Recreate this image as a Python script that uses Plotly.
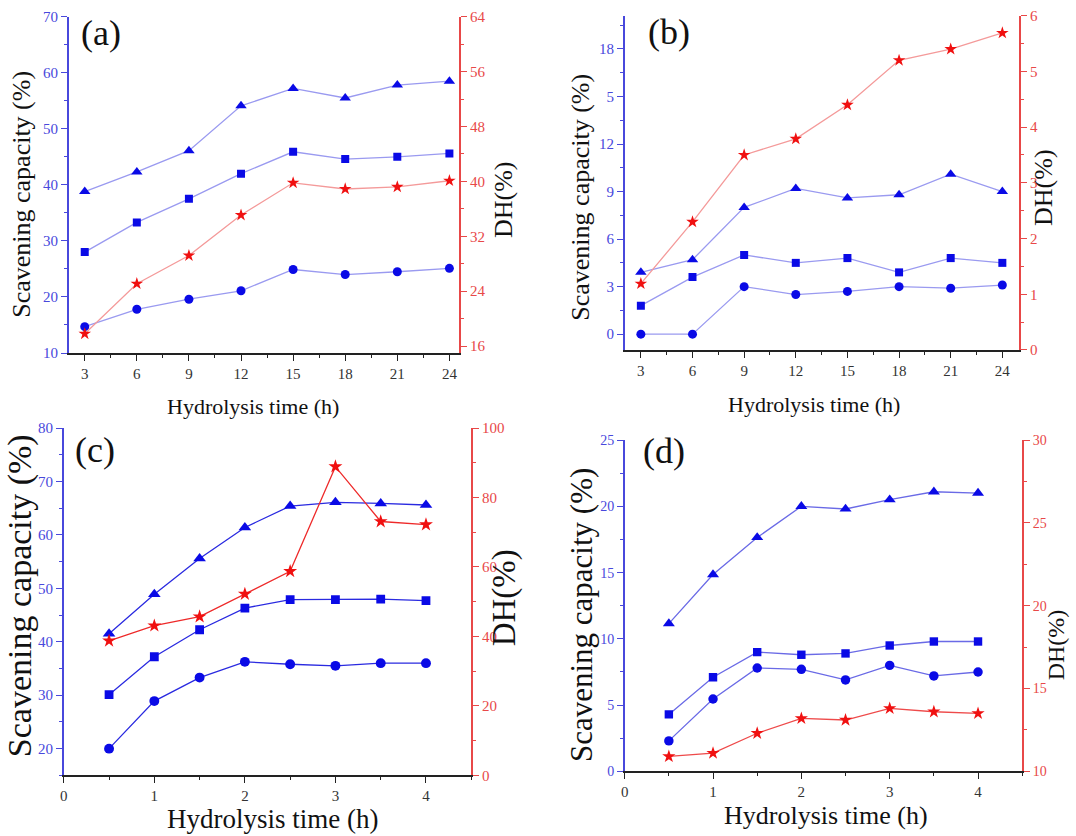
import plotly.graph_objects as go

W, H = 1076, 836

# ---------------- data ----------------
t_ab = [3, 6, 9, 12, 15, 18, 21, 24]
t_cd = [0.5, 1, 1.5, 2, 2.5, 3, 3.5, 4]

a_tri = [38.8, 42.3, 46.1, 54.1, 57.2, 55.5, 57.8, 58.5]
a_sq = [28.0, 33.3, 37.5, 42.0, 45.9, 44.6, 45.0, 45.6]
a_cir = [14.7, 17.8, 19.6, 21.1, 24.9, 24.0, 24.5, 25.1]
a_dh = [17.8, 25.1, 29.2, 35.1, 39.8, 38.9, 39.2, 40.1]

b_tri = [3.9, 4.7, 8.0, 9.2, 8.6, 8.8, 10.1, 9.0]
b_sq = [1.8, 3.6, 5.0, 4.5, 4.8, 3.9, 4.8, 4.5]
b_cir = [0.0, 0.0, 3.0, 2.5, 2.7, 3.0, 2.9, 3.1]
b_dh = [1.19, 2.3, 3.5, 3.79, 4.4, 5.2, 5.4, 5.69]

c_tri = [41.5, 48.9, 55.6, 61.4, 65.4, 66.1, 65.9, 65.6]
c_sq = [30.1, 37.2, 42.25, 46.3, 47.9, 47.9, 48.0, 47.7]
c_cir = [20.0, 28.9, 33.3, 36.25, 35.8, 35.5, 36.0, 36.0]
c_dh = [38.75, 43.1, 45.7, 52.2, 58.75, 88.9, 73.1, 72.2]

d_tri = [11.15, 14.85, 17.65, 20.0, 19.8, 20.5, 21.1, 21.0]
d_sq = [4.3, 7.1, 9.0, 8.8, 8.9, 9.5, 9.8, 9.8]
d_cir = [2.3, 5.46, 7.8, 7.7, 6.9, 8.0, 7.2, 7.5]
d_dh = [10.9, 11.1, 12.3, 13.2, 13.1, 13.8, 13.6, 13.5]

# tick labels
a_left_ticks = [10, 20, 30, 40, 50, 60, 70]
a_right_ticks = [16, 24, 32, 40, 48, 56, 64]
b_left_ticks = [0, 3, 6, 9, 12, 15, 18]
b_left_text = ["0", "3", "6", "9", "12", "5", "18"]
b_right_ticks = [0, 1, 2, 3, 4, 5, 6]
c_left_ticks = [20, 30, 40, 50, 60, 70, 80]
c_right_ticks = [0, 20, 40, 60, 80, 100]
d_left_ticks = [0, 5, 10, 15, 20, 25]
d_right_ticks = [10, 15, 20, 25, 30]
ab_x_ticks = [3, 6, 9, 12, 15, 18, 21, 24]
cd_x_ticks = [0, 1, 2, 3, 4]

ytitle = "Scavening capacity (%)"
xtitle = "Hydrolysis time (h)"
dhtitle = "DH(%)"

FONT = "Liberation Serif, Times New Roman, serif"
BLUE_AX = "#4848dc"
RED_AX = "#e84848"
MARK_BLUE = "#0a0ae6"
MARK_RED = "#f01010"


def vy(t):
    # vertical placement helper (pixel target -> layout pixel)
    return (t - 8.3) / 0.98


fig = go.Figure()

panels = [
    dict(k=1, x=t_ab, s=(a_tri, a_sq, a_cir), dh=a_dh, xd=(65, 457), yd=(17, 353),
         xr=[2.08, 24.57], lr=[10, 70], rr=[15.0, 64], lt=a_left_ticks, ltx=None,
         rt=a_right_ticks, xt=ab_x_ticks, xminor=1.5, lminor=5, rminor=4,
         lc="#9a9af0", rc="#f49a9a", ms=1.0),
    dict(k=2, x=t_ab, s=(b_tri, b_sq, b_cir), dh=b_dh, xd=(623, 1019), yd=(16, 350),
         xr=[2.06, 24.98], lr=[-1, 20.1], rr=[0, 6], lt=b_left_ticks, ltx=b_left_text,
         rt=b_right_ticks, xt=ab_x_ticks, xminor=1.5, lminor=1.5, rminor=0.5,
         lc="#9a9af0", rc="#f49a9a", ms=1.0),
    dict(k=3, x=t_cd, s=(c_tri, c_sq, c_cir), dh=c_dh, xd=(60, 469), yd=(428, 775),
         xr=[0, 4.5], lr=[15, 80], rr=[0, 100], lt=c_left_ticks, ltx=None,
         rt=c_right_ticks, xt=cd_x_ticks, xminor=0.5, lminor=5, rminor=10,
         lc="#2a2ae0", rc="#ee2a2a", ms=1.1),
    dict(k=4, x=t_cd, s=(d_tri, d_sq, d_cir), dh=d_dh, xd=(623, 1022), yd=(440, 771),
         xr=[0, 4.5], lr=[0, 25], rr=[10, 30], lt=d_left_ticks, ltx=None,
         rt=d_right_ticks, xt=cd_x_ticks, xminor=0.5, lminor=2.5, rminor=2.5,
         lc="#6a6ae6", rc="#ee4a4a", ms=1.05),
]

layout = {}
for p in panels:
    k = p["k"]
    xa = f"x{k}" if k > 1 else "x"
    yl_i = 2 * k - 1
    yr_i = 2 * k
    yl = f"y{yl_i}" if yl_i > 1 else "y"
    yr = f"y{yr_i}"
    symbols = ["triangle-up", "square", "circle"]
    sizes = [10, 8, 9]
    for ser, sym, sz in zip(p["s"], symbols, sizes):
        fig.add_trace(go.Scatter(
            x=p["x"], y=ser, xaxis=xa, yaxis=yl, mode="lines+markers",
            line=dict(color=p["lc"], width=1.3),
            marker=dict(symbol=sym, size=sz * p["ms"], color=MARK_BLUE, line=dict(width=0)),
            showlegend=False))
    fig.add_trace(go.Scatter(
        x=p["x"], y=p["dh"], xaxis=xa, yaxis=yr, mode="lines+markers",
        line=dict(color=p["rc"], width=1.3),
        marker=dict(symbol="star", size=9.5 * p["ms"], color=MARK_RED, line=dict(width=0)),
        showlegend=False))

    x0, x1 = p["xd"][0] / W, p["xd"][1] / W
    y0, y1 = 1 - vy(p["yd"][1]) / H, 1 - vy(p["yd"][0]) / H
    xkey = f"xaxis{k}" if k > 1 else "xaxis"
    ylkey = f"yaxis{yl_i}" if yl_i > 1 else "yaxis"
    yrkey = f"yaxis{yr_i}"
    tfs = 15 if k != 4 else 14
    layout[xkey] = dict(
        domain=[x0, x1], anchor=yl, range=p["xr"], showgrid=False, zeroline=False,
        showline=True, linecolor="#222222", linewidth=1.5,
        ticks="outside", ticklen=6, tickwidth=1.3, tickcolor="#222222",
        tickvals=p["xt"], tickfont=dict(family=FONT, size=15, color="#333333"),
        minor=dict(dtick=p["xminor"], tick0=0, ticks="outside", ticklen=3,
                   tickcolor="#222222", tickwidth=1.2, showgrid=False),
    )
    ld = dict(
        domain=[y0, y1], anchor=xa, range=p["lr"], showgrid=False, zeroline=False,
        showline=True, linecolor=BLUE_AX, linewidth=1.5,
        ticks="outside", ticklen=6, tickwidth=1.3, tickcolor=BLUE_AX,
        tickvals=p["lt"], tickfont=dict(family=FONT, size=tfs, color=BLUE_AX),
        minor=dict(dtick=p["lminor"], tick0=p["lt"][0], ticks="outside", ticklen=3,
                   tickcolor=BLUE_AX, tickwidth=1.2, showgrid=False),
    )
    if p["ltx"] is not None:
        ld["ticktext"] = p["ltx"]
    layout[ylkey] = ld
    layout[yrkey] = dict(
        overlaying=yl, side="right", anchor=xa, range=p["rr"], showgrid=False,
        zeroline=False, showline=True, linecolor=RED_AX, linewidth=1.5,
        ticks="outside", ticklen=6, tickwidth=1.3, tickcolor=RED_AX,
        tickvals=p["rt"], tickfont=dict(family=FONT, size=tfs, color=RED_AX),
        minor=dict(dtick=p["rminor"], tick0=p["rt"][0], ticks="outside", ticklen=3,
                   tickcolor=RED_AX, tickwidth=1.2, showgrid=False),
    )


def ann(text, px, py, size, angle=0):
    return dict(text=text, x=px / W, y=1 - vy(py) / H, xref="paper", yref="paper",
                showarrow=False, textangle=angle, xanchor="center", yanchor="middle",
                borderpad=0, font=dict(family=FONT, size=size, color="#111111"))


annotations = [
    ann("(a)", 97, 33, 36), ann("(b)", 667, 32, 36),
    ann("(c)", 91, 450, 36), ann("(d)", 662, 451, 36),
    ann(ytitle, 18, 194, 26, -90), ann(ytitle, 579, 197, 26, -90),
    ann(ytitle, 16, 595, 34, -90), ann(ytitle, 579, 615, 31, -90),
    ann(dhtitle, 502, 200, 26, -90), ann(dhtitle, 1044, 188, 26, -90),
    ann(dhtitle, 502, 598, 33, -90), ann(dhtitle, 1056, 645, 24, -90),
    ann(xtitle, 250, 406, 22), ann(xtitle, 813, 404, 22),
    ann(xtitle, 269, 819, 27), ann(xtitle, 825, 815, 26),
]

fig.update_layout(
    width=W, height=H, margin=dict(l=0, r=0, t=0, b=0),
    paper_bgcolor="white", plot_bgcolor="white",
    showlegend=False, annotations=annotations, **layout)

fig.write_html(
    "out.html",
    config={"displayModeBar": False},
    post_script=(
        "document.documentElement.style.margin='0';"
        "document.documentElement.style.overflow='hidden';"
        "document.body.style.margin='0';"
        "document.body.style.overflow='hidden';"
        "var gd=document.getElementById('{plot_id}');"
        "gd.style.position='fixed';gd.style.left='0px';gd.style.top='0px';"
    ),
)
